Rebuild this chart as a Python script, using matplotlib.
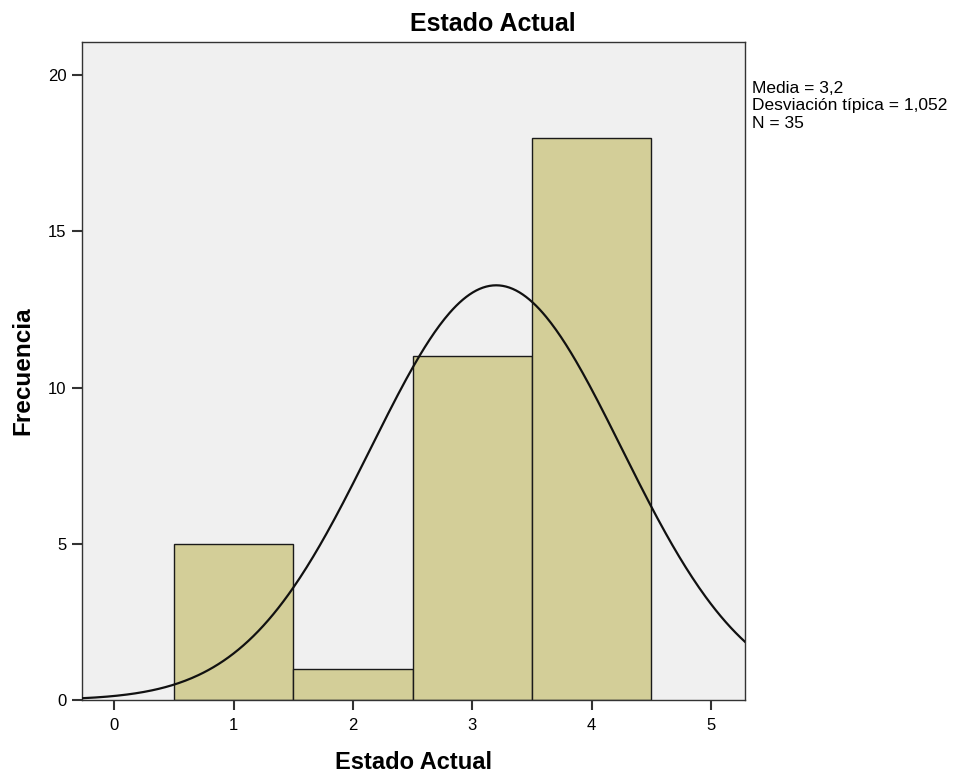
import numpy as np
import matplotlib
matplotlib.use("Agg")
import matplotlib.pyplot as plt

plt.rcParams['font.family'] = ['Liberation Sans', 'DejaVu Sans']

categories = [1, 2, 3, 4]
frequencies = [5, 1, 11, 18]
mean = 3.2
std = 1.052
n = 35
xticks = [0, 1, 2, 3, 4, 5]
yticks = [0, 5, 10, 15, 20]
stats_lines = ['Media = 3,2', 'Desviación típica = 1,052', 'N = 35']

fig = plt.figure(figsize=(9.58, 7.76), dpi=100)
ax = fig.add_axes([0.0856, 0.0979, 0.6921, 0.848])
ax.set_facecolor('#f0f0f0')

ax.bar(categories, frequencies, width=1.0, color='#d3ce98', edgecolor='#1a1a1a', linewidth=1.0, zorder=2)

xs = np.linspace(-0.27, 5.29, 400)
ys = n * 1.0 / (std * np.sqrt(2 * np.pi)) * np.exp(-0.5 * ((xs - mean) / std) ** 2)
ax.plot(xs, ys, color='#111111', linewidth=1.6, zorder=3)

ax.set_xlim(-0.27, 5.285)
ax.set_ylim(0, 21.06)
ax.set_xticks(xticks)
ax.set_yticks(yticks)
ax.tick_params(axis='both', labelsize=12, length=7, width=1.5, color='#333333', pad=4)
ax.tick_params(axis='x', pad=6)
for s in ax.spines.values():
    s.set_color('#333333')
    s.set_linewidth(1.0)

fig.text(0.5146, 1 - 31 / 776, 'Estado Actual', fontsize=18, fontweight='bold',
         ha='center', va='baseline')
ax.set_xlabel('Estado Actual', fontsize=17, fontweight='bold', labelpad=13)
ax.set_ylabel('Frecuencia', fontsize=17.5, fontweight='bold', labelpad=10)

for i, line in enumerate(stats_lines):
    fig.text(752 / 958, 1 - (93 + 17.3 * i) / 776, line,
             fontsize=12.5, va='baseline', ha='left')

fig.savefig('out.png', dpi=100)
